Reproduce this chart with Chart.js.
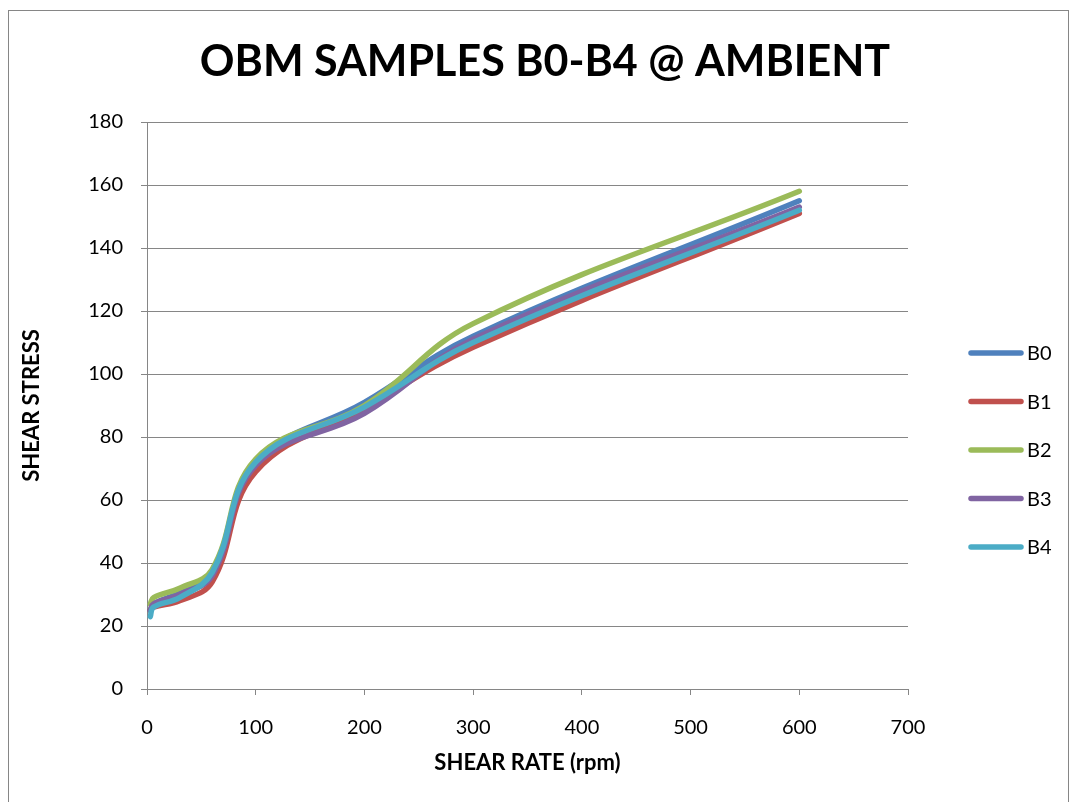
<!DOCTYPE html>
<html>
<head>
<meta charset="utf-8">
<script src="https://cdn.jsdelivr.net/npm/chart.js@4/dist/chart.umd.min.js"></script>
<style>
    html, body { margin: 0; padding: 0; background: #fff; }
    #wrap { width: 1073px; height: 802px; }
</style>
</head>
<body>
<div id="wrap"><canvas id="rheology"></canvas></div>
<script>
// shear rate (rpm) readings and shear stress per sample
const shearRate = [3, 6, 30, 60, 100, 200, 300, 600];
const b0 = [25, 27, 30.5, 37, 72, 91, 112, 155];
const b1 = [25, 26, 28, 34, 69, 89, 108.5, 151];
const b2 = [27, 29, 32, 38, 73, 90, 116, 158];
const b3 = [25, 27, 30, 36, 71, 87.5, 111, 153];
const b4 = [23, 26, 29, 37, 72, 89.5, 110, 152];
const sampleNames = ['B0', 'B1', 'B2', 'B3', 'B4'];
const sampleColors = ['#4F81BD', '#C0504D', '#9BBB59', '#8064A2', '#4BACC6'];
const chartTitle = 'OBM SAMPLES B0-B4 @ AMBIENT';

const gridGrey = '#868686';
const fontFamily = 'Lato, "Open Sans", sans-serif';

document.addEventListener('DOMContentLoaded', () => {
    let ctx = document.getElementById('rheology').getContext('2d');

    let datasets = [b0, b1, b2, b3, b4].map((values, i) => ({
        label: sampleNames[i],
        data: shearRate.map((x, j) => ({x: x, y: values[j]})),
        borderColor: sampleColors[i],
        backgroundColor: sampleColors[i],
        borderWidth: 5.5,
        borderCapStyle: 'round',
        borderJoinStyle: 'round',
        pointRadius: 0,
        tension: 0.4,
        fill: false,
        order: sampleNames.length - i // last sample on top
    }));

    // white background, outer frame and the centred title
    const frame = {
        id: 'frame',
        beforeDraw(chart) {
            let c = chart.ctx;
            c.save();
            c.fillStyle = '#fff';
            c.fillRect(0, 0, chart.width, chart.height);
            c.strokeStyle = gridGrey;
            c.lineWidth = 1;
            c.strokeRect(8.5, 10.5, 1060, 820);
            c.fillStyle = '#000';
            c.font = 'bold 43px ' + fontFamily;
            c.textAlign = 'center';
            c.textBaseline = 'middle';
            c.fillText(chartTitle, 545, 62);
            c.restore();
        }
    };

    // legend drawn on the right, one row per sample
    const sideLegend = {
        id: 'sideLegend',
        afterDraw(chart) {
            let c = chart.ctx;
            c.save();
            c.font = '20px ' + fontFamily;
            c.textBaseline = 'middle';
            chart.data.datasets.forEach((ds, i) => {
                let y = 353 + i * 48.5;
                c.strokeStyle = ds.borderColor;
                c.lineWidth = 5.5;
                c.lineCap = 'round';
                c.beginPath();
                c.moveTo(971, y);
                c.lineTo(1021, y);
                c.stroke();
                c.fillStyle = '#000';
                c.fillText(ds.label, 1027, y + 1);
            });
            c.restore();
        }
    };

    new Chart(ctx, {
        type: 'line',
        data: {datasets: datasets},
        plugins: [frame, sideLegend],
        options: {
            responsive: true,
            maintainAspectRatio: false,
            animation: false,
            layout: {padding: {left: 0, right: 165, top: 122, bottom: 0}},
            plugins: {
                legend: {display: false},
                tooltip: {enabled: false},
                title: {display: false}
            },
            scales: {
                x: {
                    type: 'linear',
                    min: 0,
                    max: 700,
                    ticks: {stepSize: 100, color: '#000', padding: 21, font: {family: fontFamily, size: 20}},
                    grid: {drawOnChartArea: false, drawTicks: true, tickLength: 6, color: gridGrey},
                    border: {color: gridGrey, width: 1},
                    title: {
                        display: true,
                        text: 'SHEAR RATE (rpm)',
                        color: '#000',
                        font: {family: fontFamily, size: 22, weight: 'bold'},
                        padding: 26
                    },
                    afterFit(scale) { scale.height = 113; }
                },
                y: {
                    min: 0,
                    max: 180,
                    ticks: {stepSize: 20, color: '#000', padding: 18, font: {family: fontFamily, size: 20}},
                    grid: {color: gridGrey, tickLength: 6},
                    border: {color: gridGrey, width: 1},
                    title: {
                        display: true,
                        text: 'SHEAR STRESS',
                        color: '#000',
                        font: {family: fontFamily, size: 22, weight: 'bold'},
                        padding: 19
                    },
                    afterFit(scale) { scale.width = 147; }
                }
            }
        }
    });
});
</script>
</body>
</html>
